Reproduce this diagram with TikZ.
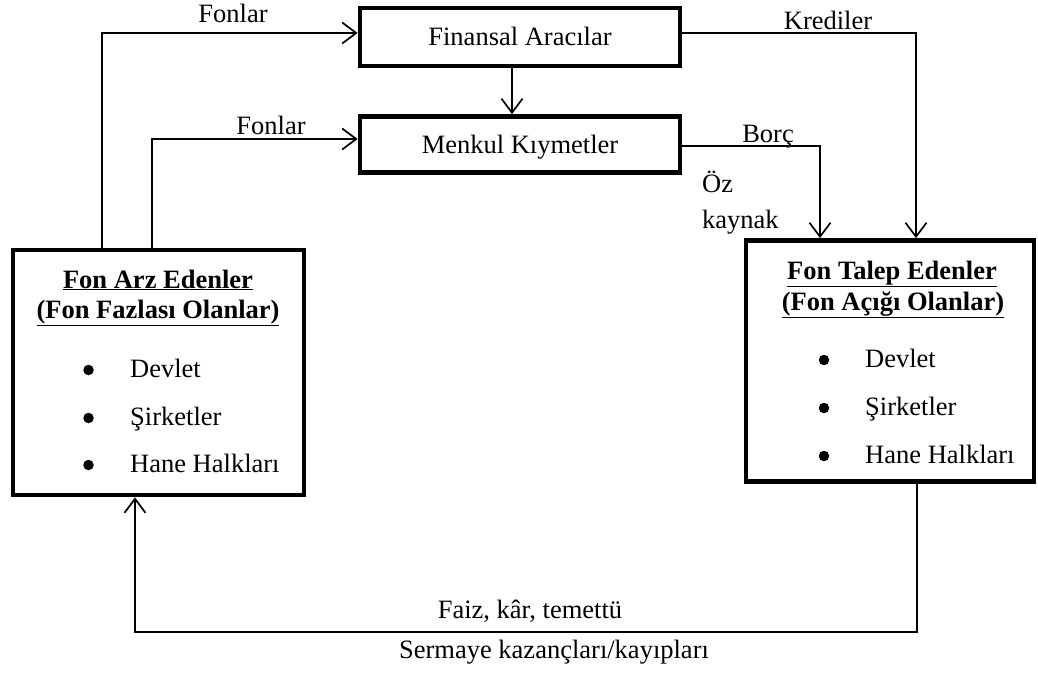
\documentclass[tikz,border=0pt]{standalone}
\usepackage{fontspec}
\setmainfont{Liberation Serif}
\usetikzlibrary{arrows.meta}
\begin{document}
\begin{tikzpicture}[x=1pt,y=-1pt,
  every node/.style={font=\fontsize{26.5}{32}\selectfont, inner sep=0pt},
  box/.style={draw, line width=4.8pt, rectangle},
  arr/.style={line width=1.7pt, -{Straight Barb[length=14pt,width=21pt,line width=1.7pt]}},
  lbl/.style={anchor=base},
  item/.style={anchor=base west},
  dot/.style={circle, fill, minimum size=10.5pt}]
\useasboundingbox (0,0) rectangle (1038,677);

% boxes
\node[box, minimum width=320pt, minimum height=58pt] (fin) at (520,37) {};
\node[lbl] (fintxt) at (520,46) {Finansal Aracılar};
\node[box, minimum width=320pt, minimum height=56pt] (men) at (520,144.5) {};
\node[lbl] (mentxt) at (520,153) {Menkul Kıymetler};
\node[box, minimum width=291pt, minimum height=245pt] (arz) at (158.5,372.5) {};
\node[box, minimum width=288pt, minimum height=241pt] (talep) at (890,361) {};

% left box contents
\node[lbl] (arzh1) at (158,288) {\bfseries\underline{Fon Arz Edenler}};
\node[lbl] (arzh2) at (158,318) {\bfseries\underline{(Fon Fazlası Olanlar)}};
\node[dot] (ab1) at (88.5,370) {};
\node[item] (ai1) at (130,377) {Devlet};
\node[dot] (ab2) at (88.5,418) {};
\node[item] (ai2) at (130,425) {Şirketler};
\node[dot] (ab3) at (88.5,465) {};
\node[item] (ai3) at (130,472) {Hane Halkları};

% right box contents
\node[lbl] (tah1) at (892,279) {\bfseries\underline{Fon Talep Edenler}};
\node[lbl] (tah2) at (893,310) {\bfseries\underline{(Fon Açığı Olanlar)}};
\node[dot] (tb1) at (824,360) {};
\node[item] (ti1) at (865,367) {Devlet};
\node[dot] (tb2) at (824,408) {};
\node[item] (ti2) at (865,415) {Şirketler};
\node[dot] (tb3) at (824,456) {};
\node[item] (ti3) at (865,463) {Hane Halkları};

% flows of funds
\draw[arr] ([xshift=-56.5pt]arz.north) |- ([yshift=4pt]fin.west);
\draw[arr] ([xshift=-6.5pt]arz.north) |- ([yshift=5.5pt]men.west);
\draw[arr] ([xshift=-8pt]fin.south) -- ([xshift=-8pt]men.north);
\draw[arr] ([yshift=4pt]fin.east) -| ([xshift=26pt]talep.north);
\draw[arr] ([yshift=-1.5pt]men.east) -| ([xshift=-70pt]talep.north);
\coordinate (ret) at (135,632);
\draw[arr] ([xshift=27pt]talep.south) |- (ret) -- ([xshift=-23.5pt]arz.south);

% labels
\node[lbl] (l1) at (233,23) {Fonlar};
\node[lbl] (l2) at (271,134) {Fonlar};
\node[lbl] (l3) at (828,30) {Krediler};
\node[lbl] (l4) at (768,142) {Borç};
\node[item] (l5) at (702,192) {Öz};
\node[item] (l6) at (702,228) {kaynak};
\node[lbl] (l7) at (530,618) {Faiz, kâr, temettü};
\node[lbl] (l8) at (554,658) {Sermaye kazançları/kayıpları};
\end{tikzpicture}
\end{document}
